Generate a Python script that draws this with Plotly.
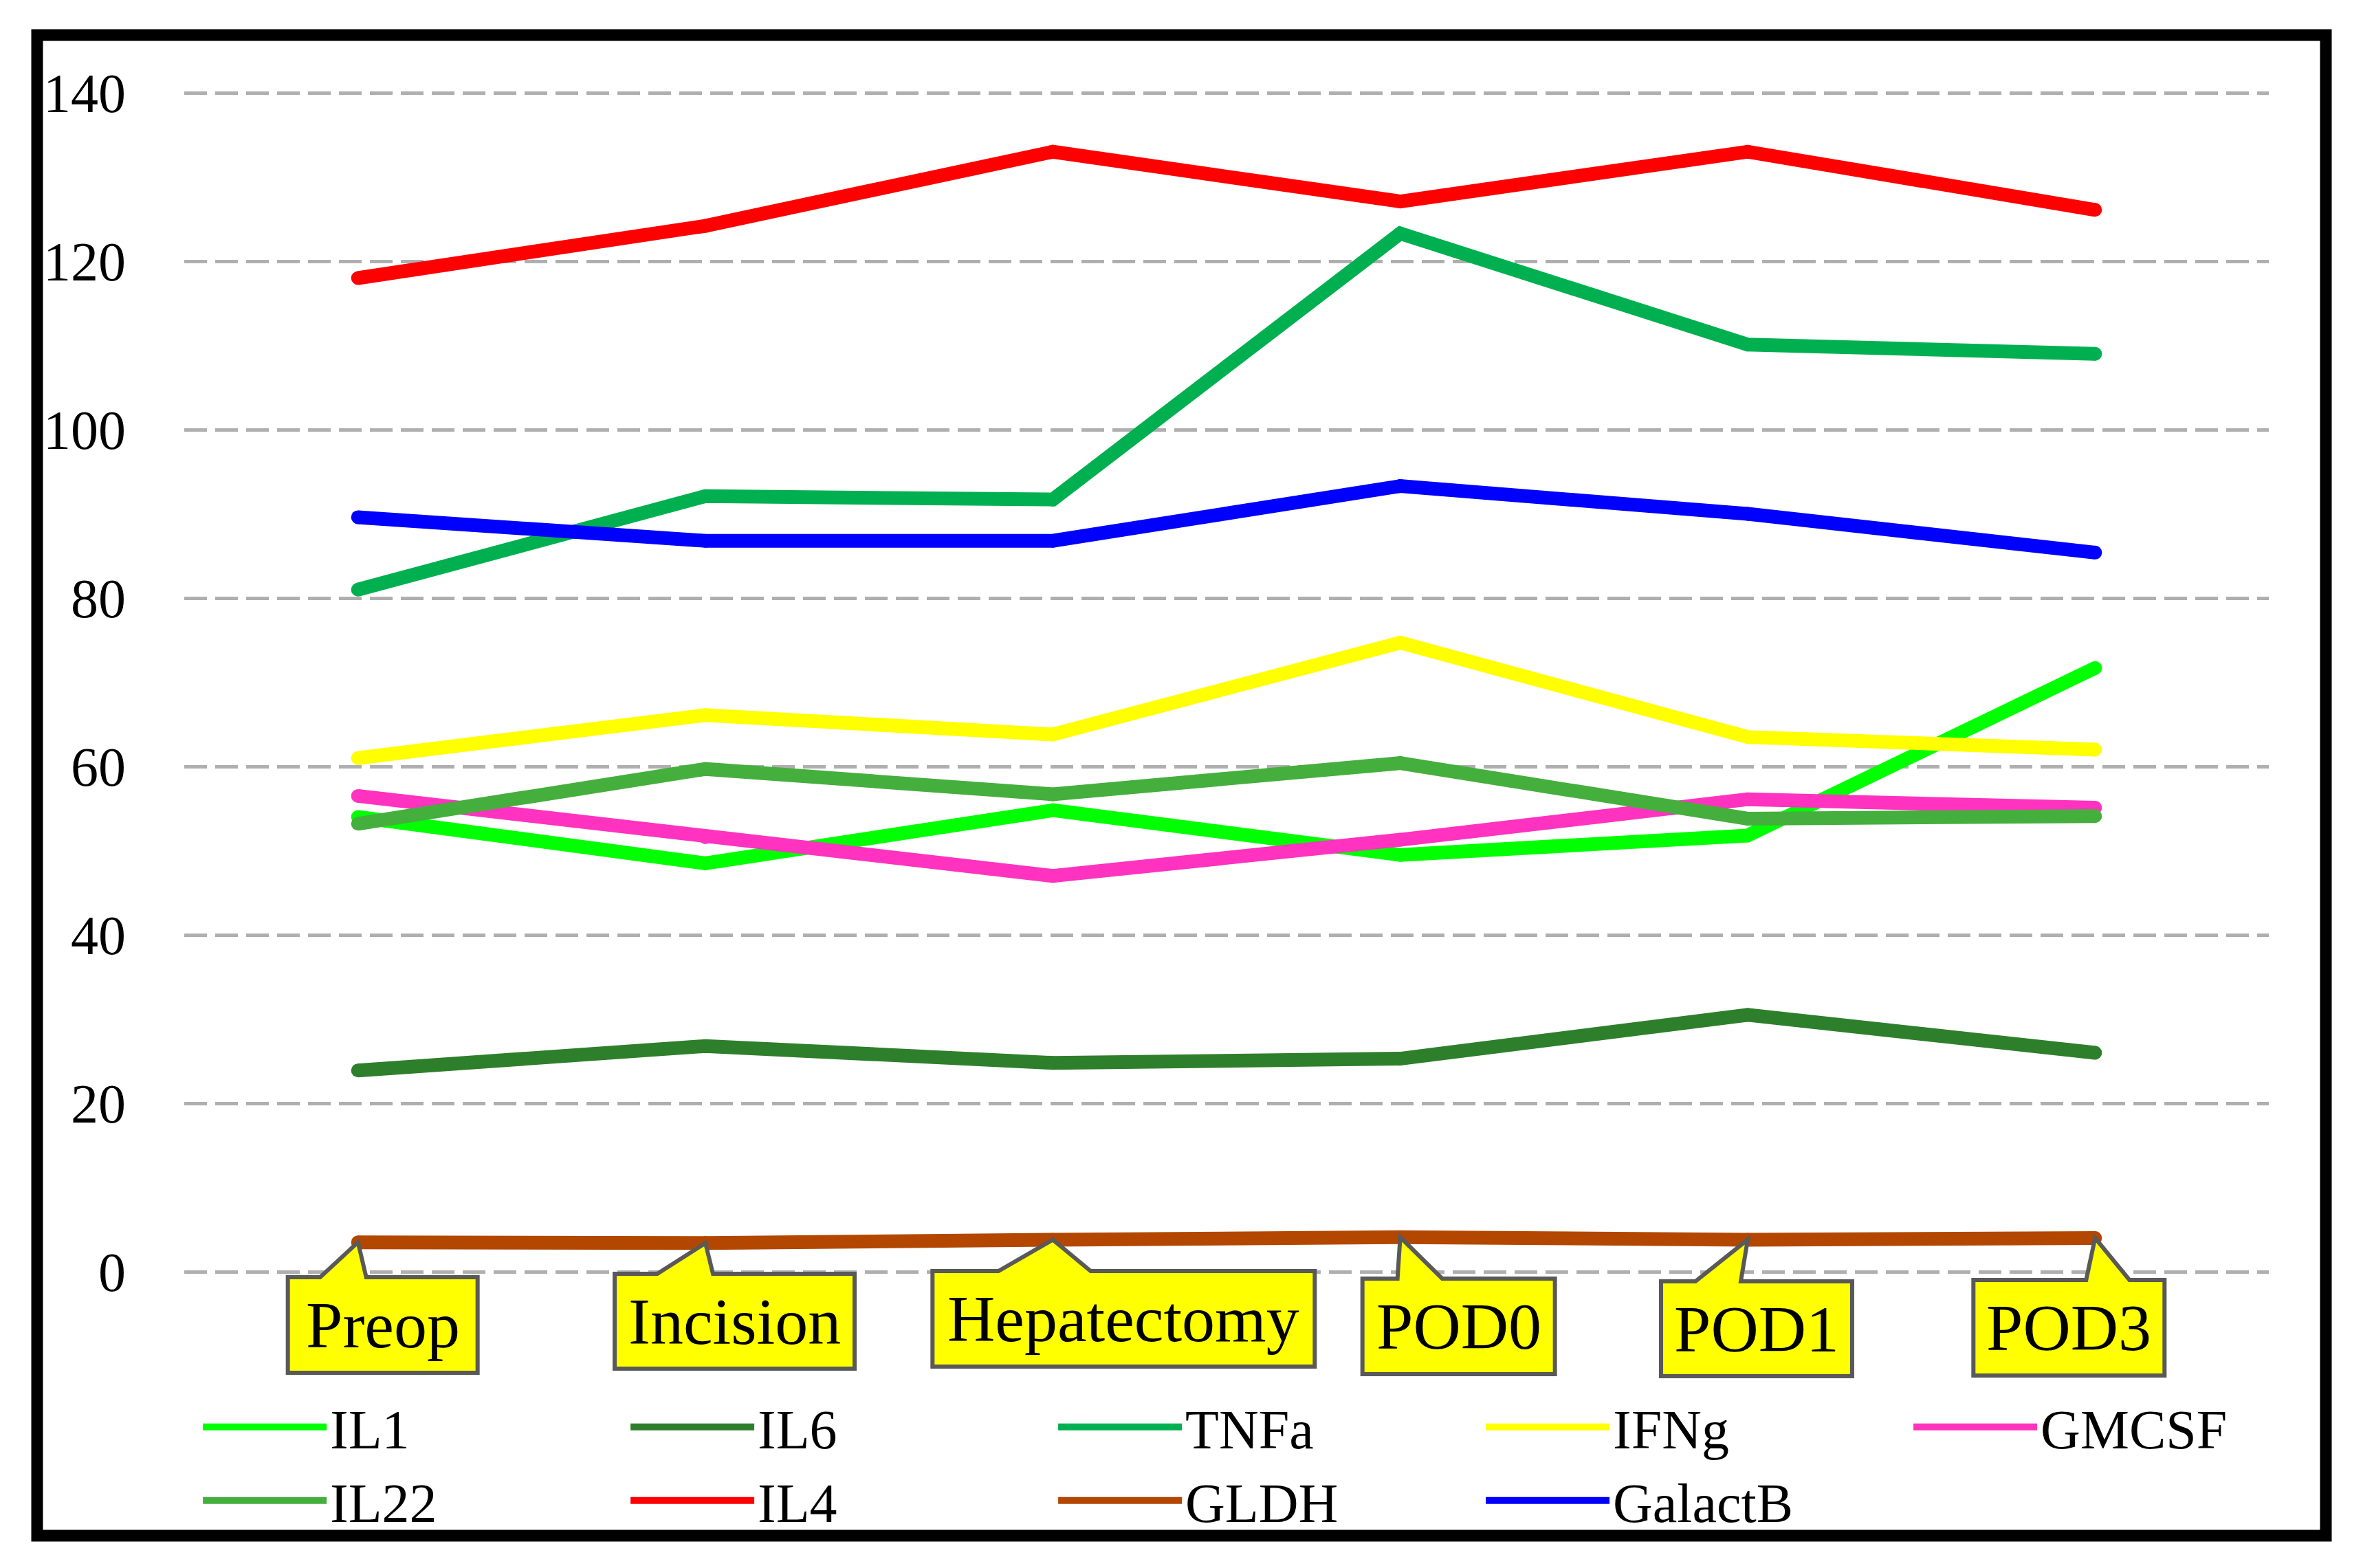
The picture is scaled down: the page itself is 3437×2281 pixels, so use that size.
import plotly.graph_objects as go

# ---------------- data ----------------
categories = ["Preop", "Incision", "Hepatectomy", "POD0", "POD1", "POD3"]
IL1 = [54.0, 48.5, 54.8, 49.5, 51.8, 71.7]
IL6 = [23.9, 26.8, 24.8, 25.3, 30.5, 26.0]
TNFa = [81.0, 92.1, 91.7, 123.3, 110.1, 109.0]
IFNg = [61.0, 66.1, 63.8, 74.7, 63.5, 62.0]
GMCSF = [56.5, 51.6, 47.0, 51.3, 56.1, 55.1]
IL22 = [53.2, 59.7, 56.7, 60.4, 53.8, 54.1]
IL4 = [118.0, 124.2, 133.0, 127.1, 133.0, 126.1]
GLDH = [3.5, 3.4, 3.8, 4.1, 3.8, 4.0]
GalactB = [89.6, 86.8, 86.8, 93.3, 90.0, 85.4]
y_ticks = [0, 20, 40, 60, 80, 100, 120, 140]

series = [
    ("IL1", IL1, "#00FF00"),
    ("IL6", IL6, "#2E7F2B"),
    ("TNFa", TNFa, "#00B050"),
    ("IFNg", IFNg, "#FFFF00"),
    ("GMCSF", GMCSF, "#FF33BF"),
    ("IL22", IL22, "#45AF3D"),
    ("IL4", IL4, "#FF0000"),
    ("GLDH", GLDH, "#B34700"),
    ("GalactB", GalactB, "#0000FF"),
]

# ---------------- layout geometry (pixels) ----------------
W, H = 3437, 2281
OFF = 8                 # page body margin of the written html


def P(px):
    """target page pixel -> figure pixel"""
    return px - OFF


PX_PER_UNIT = 12.25
ZERO_PX = P(1850)       # 0 gridline
TOP_PX = P(129)         # top of plot area
BOT_PX = P(1994)        # bottom of plot area (legend starts right below)
L_M = P(268)
R_M = W - P(3300)
T_M, B_M = TOP_PX, H - BOT_PX
PW = W - L_M - R_M
PH = H - T_M - B_M
Y_RANGE = [-(BOT_PX - ZERO_PX) / PX_PER_UNIT, (ZERO_PX - TOP_PX) / PX_PER_UNIT]
X_RANGE = [-0.5, 5.5]
XU = (X_RANGE[1] - X_RANGE[0]) / PW  # data units per px (x)


def paper_x(px):
    return (P(px) - L_M) / PW


def paper_y(py):
    return (BOT_PX - P(py)) / PH


def value_to_paper(v):
    return (v - Y_RANGE[0]) / (Y_RANGE[1] - Y_RANGE[0])


FONT = "Liberation Serif"

# callout geometry: box left/right, pointer base left/right (px offsets from the point),
# box top / bottom (page px)
callout_geom = [
    (-102, 174, -55, 12, 1858, 1997),
    (-132, 217, -70, 11, 1853, 1991),
    (-175, 381, -79, 55, 1849, 1988),
    (-55, 225, -4, 61, 1860, 1999),
    (-126, 152, -76, -10, 1864, 2002),
    (-177, 101, -13, 50, 1862, 2001),
]

fig = go.Figure()
xs = list(range(len(categories)))
for name, vals, col in series:
    fig.add_trace(go.Scatter(
        x=xs, y=vals, name=name, mode="lines",
        line=dict(color=col, width=20),
    ))
    # round joins / caps
    fig.add_trace(go.Scatter(
        x=xs, y=vals, name=name, mode="markers", showlegend=False,
        marker=dict(color=col, size=20, line=dict(width=0)), hoverinfo="skip",
    ))

shapes = []
annotations = []
for i, cat in enumerate(categories):
    bl, br, pl, pr, top_px, bot_px = callout_geom[i]
    top = paper_y(top_px)
    bot = paper_y(bot_px)
    tip = value_to_paper(GLDH[i])
    X = lambda p: i + p * XU
    path = (f"M {X(bl)},{top} L {X(pl)},{top} L {i},{tip} L {X(pr)},{top} "
            f"L {X(br)},{top} L {X(br)},{bot} L {X(bl)},{bot} Z")
    shapes.append(dict(type="path", path=path, xref="x", yref="paper",
                       fillcolor="#FFFF00", line=dict(color="#595959", width=6),
                       layer="above"))
    annotations.append(dict(x=X((bl + br) / 2), y=(top + bot) / 2, xref="x", yref="paper",
                            text=cat, showarrow=False,
                            font=dict(family=FONT, size=96, color="black"),
                            xanchor="center", yanchor="middle"))

# outer frame
shapes.append(dict(type="rect", xref="paper", yref="paper",
                   x0=paper_x(54), x1=paper_x(3383), y0=paper_y(51), y1=paper_y(2234),
                   line=dict(color="black", width=17), fillcolor="rgba(0,0,0,0)",
                   layer="below"))

fig.update_layout(
    width=W, height=H,
    margin=dict(l=L_M, r=R_M, t=T_M, b=B_M, pad=0, autoexpand=False),
    paper_bgcolor="white", plot_bgcolor="white",
    font=dict(family=FONT, size=80, color="black"),
    showlegend=True,
    legend=dict(
        orientation="h", x=-0.0003, y=-0.0001, xanchor="left", yanchor="top",
        entrywidth=427, entrywidthmode="pixels", itemwidth=180,
        borderwidth=23, bordercolor="rgba(0,0,0,0)",
        font=dict(family=FONT, size=80, color="black"),
        bgcolor="rgba(0,0,0,0)", traceorder="normal",
    ),
    xaxis=dict(range=X_RANGE, showgrid=False, zeroline=False, showline=False,
               showticklabels=False, ticks=""),
    yaxis=dict(range=Y_RANGE, tickvals=y_ticks, showgrid=True, gridcolor="#AFAFAF",
               gridwidth=5, griddash="33px,12px", zeroline=False, showline=False,
               ticks="", ticklabelstandoff=84,
               tickfont=dict(family=FONT, size=80, color="black")),
    shapes=shapes,
    annotations=annotations,
)

fig.write_html("out.html")
